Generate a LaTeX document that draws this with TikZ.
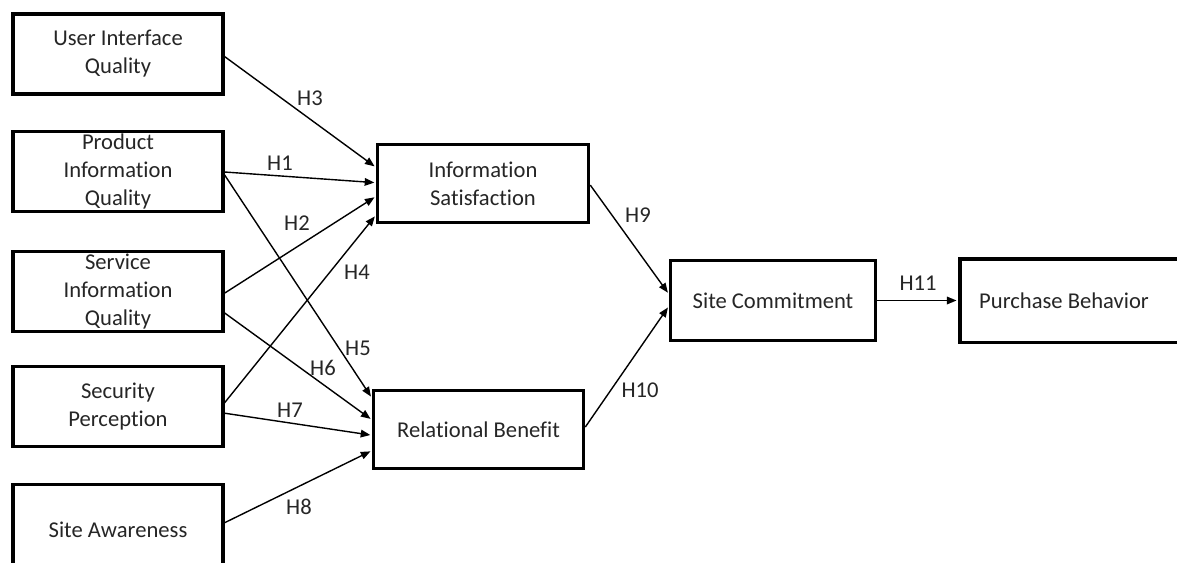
\documentclass[tikz,border=0pt]{standalone}
\usepackage{fontspec}
\setmainfont{Carlito}[Ligatures={NoCommon}]
\usetikzlibrary{arrows.meta,calc}
\definecolor{txt}{HTML}{262626}
\tikzset{
  box/.style={draw=black, line width=1.8pt, rectangle, inner sep=0pt, align=center,
    text=txt, font=\fontsize{11.3}{14}\selectfont},
  lbl/.style={text=txt, font=\fontsize{11.3}{14}\selectfont, inner sep=0pt},
  arr/.style={line width=0.7pt, draw=black, -{Triangle[length=4.8pt,width=3.8pt]}, shorten >=0.7pt}
}
\begin{document}
\begin{tikzpicture}[x=0.5pt,y=-0.5pt]
\clip (0,0) rectangle (1177,562);
\fill[white] (0,0) rectangle (1177,562);
% left column
\node[box, minimum width=104.75pt, minimum height=40pt] (uiq) at (118,54) {User Interface\\Quality};
\node[box, minimum width=104.75pt, minimum height=40pt] (piq) at (118,171.5) {Product\\Information\\Quality};
\node[box, minimum width=104.75pt, minimum height=40pt] (siq) at (118,291.5) {Service\\Information\\Quality};
\node[box, minimum width=104.75pt, minimum height=40pt] (sp) at (118,406.5) {Security\\Perception};
\node[box, minimum width=104.75pt, minimum height=45pt] (sa) at (118,529.5) {Site Awareness};
% middle
\node[box, minimum width=105.5pt, minimum height=39pt] (is) at (483,183.5) {Information\\Satisfaction};
\node[box, minimum width=105pt, minimum height=39pt] (rb) at (478.5,429.5) {Relational Benefit};
\node[box, minimum width=102.5pt, minimum height=40pt] (sc) at (773,300.5) {Site Commitment};
\node[box, draw=none, minimum width=102.5pt, minimum height=40pt] (pb) at (1064,300.5) {Purchase Behavior};
\draw[line width=1.8pt] ([xshift=40pt]pb.north east) -- (pb.north west) -- (pb.south west) -- ([xshift=40pt]pb.south east);
% arrows into Information Satisfaction
\draw[arr] ($(uiq.north east)!0.53!(uiq.south east)$) -- ($(is.north west)!0.30!(is.south west)$);
\draw[arr] ($(piq.north east)!0.506!(piq.south east)$) -- ($(is.north west)!0.49!(is.south west)$);
\draw[arr] ($(siq.north east)!0.52!(siq.south east)$) -- ($(is.north west)!0.66!(is.south west)$);
\draw[arr] ($(sp.north east)!0.456!(sp.south east)$) -- ($(is.north west)!0.89!(is.south west)$);
% arrows into Relational Benefit
\draw[arr] ($(piq.north east)!0.54!(piq.south east)$) -- ($(rb.north west)!0.11!(rb.south west)$);
\draw[arr] ($(siq.north east)!0.756!(siq.south east)$) -- ($(rb.north west)!0.38!(rb.south west)$);
\draw[arr] ($(sp.north east)!0.58!(sp.south east)$) -- ($(rb.north west)!0.57!(rb.south west)$);
\draw[arr] ($(sa.north east)!0.428!(sa.south east)$) -- ($(rb.north west)!0.76!(rb.south west)$);
% to Site Commitment
\draw[arr] ($(is.north east)!0.52!(is.south east)$) -- ($(sc.north west)!0.42!(sc.south west)$);
\draw[arr] ($(rb.north east)!0.47!(rb.south east)$) -- ($(sc.north west)!0.57!(sc.south west)$);
\draw[arr] (sc.east) -- ([xshift=-0.9pt]pb.west);
% labels
\node[lbl] (h3) at (310,98) {H3};
\node[lbl] (h1) at (280,163) {H1};
\node[lbl] (h2) at (297,223) {H2};
\node[lbl] (h4) at (357,272) {H4};
\node[lbl] (h5) at (358,348) {H5};
\node[lbl] (h6) at (323,368) {H6};
\node[lbl] (h7) at (290,410) {H7};
\node[lbl] (h8) at (299,507) {H8};
\node[lbl] (h9) at (638,215) {H9};
\node[lbl] (h10) at (640,390) {H10};
\node[lbl] (h11) at (918,283) {H11};
\end{tikzpicture}
\end{document}
